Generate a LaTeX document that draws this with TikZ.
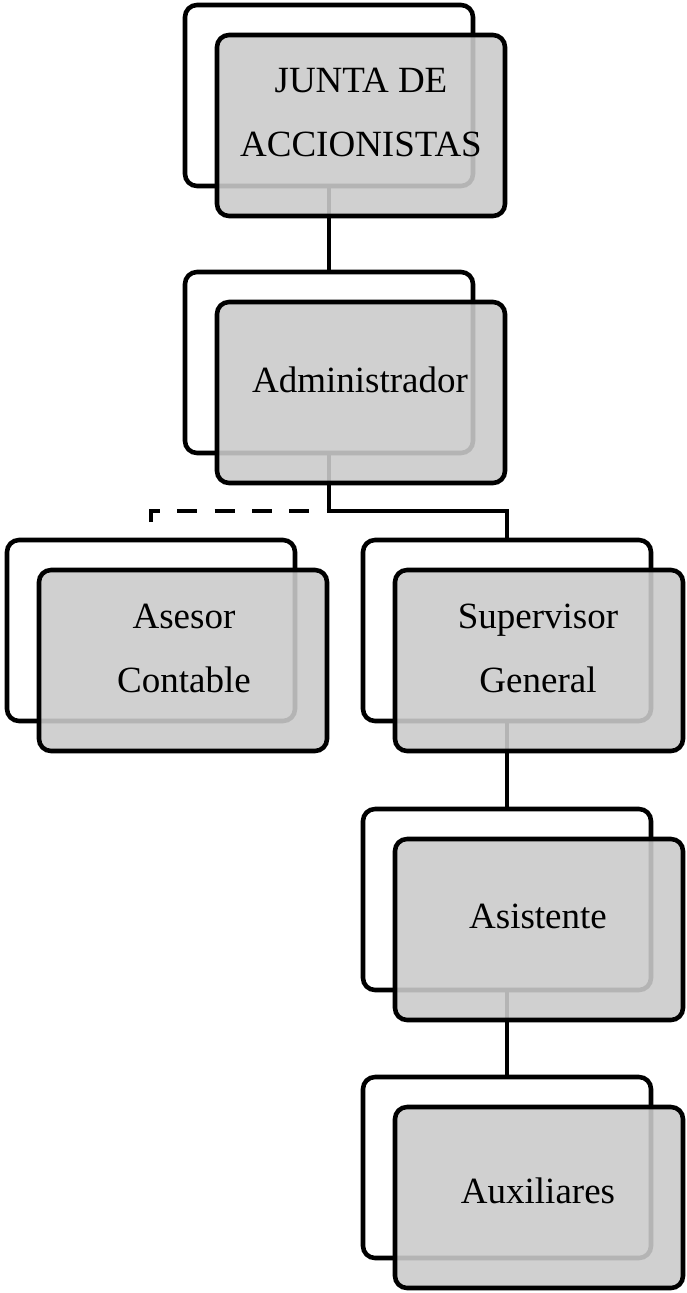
\documentclass[tikz,border=0pt]{standalone}
\usepackage{fontspec}
\setmainfont{Liberation Serif}
\definecolor{boxgray}{gray}{0.792}
\tikzset{
  backbox/.style={draw=black, line width=3.4pt, rounded corners=9pt, rectangle,
    minimum width=216pt, minimum height=135.75pt, inner sep=0pt, outer sep=0pt},
  frontbox/.style={backbox, fill=boxgray, fill opacity=0.894},
  conn/.style={draw=black, line width=3.4pt},
  dashconn/.style={conn, dash pattern=on 15pt off 13pt},
  label/.style={font=\fontsize{27.75pt}{48pt}\selectfont, inner sep=0pt, align=center, text=black}
}
\begin{document}
\begin{tikzpicture}[x=0.75pt, y=-0.75pt]
\useasboundingbox (0,0) rectangle (686,1293);
% back boxes (center = top-left + (144,90.5))
\node[backbox] (jb) at (329,95.5) {};
\node[backbox] (ab) at (329,362.5) {};
\node[backbox] (cb) at (151,630.5) {};
\node[backbox] (sb) at (507,630.5) {};
\node[backbox] (tb) at (507,899.5) {};
\node[backbox] (xb) at (507,1167.5) {};
% connectors
\coordinate (j1) at (329,511);
\coordinate (dend) at (151,522);
\draw[conn] (jb.south) -- (ab.north);
\draw[conn] (ab.south) -- (j1) -| (sb.north);
\draw[dashconn] (dend) |- (j1);
\draw[conn] (sb.south) -- (tb.north);
\draw[conn] (tb.south) -- (xb.north);
% front boxes (offset +32,+30)
\node[frontbox] (jf) at (361,125.5) {};
\node[frontbox] (af) at (361,392.5) {};
\node[frontbox] (cf) at (183,660.5) {};
\node[frontbox] (sf) at (539,660.5) {};
\node[frontbox] (tf) at (539,929.5) {};
\node[frontbox] (xf) at (539,1197.5) {};
% texts
\node[label] (jt) at (361,112) {JUNTA DE\\ACCIONISTAS};
\node[label, anchor=base] (at) at (360,392) {Administrador};
\node[label] (ct) at (184,648) {Asesor\\Contable};
\node[label] (st) at (538,648) {Supervisor\\General};
\node[label, anchor=base] (tt) at (538,928) {Asistente};
\node[label, anchor=base] (xt) at (538,1203) {Auxiliares};
\end{tikzpicture}
\end{document}
